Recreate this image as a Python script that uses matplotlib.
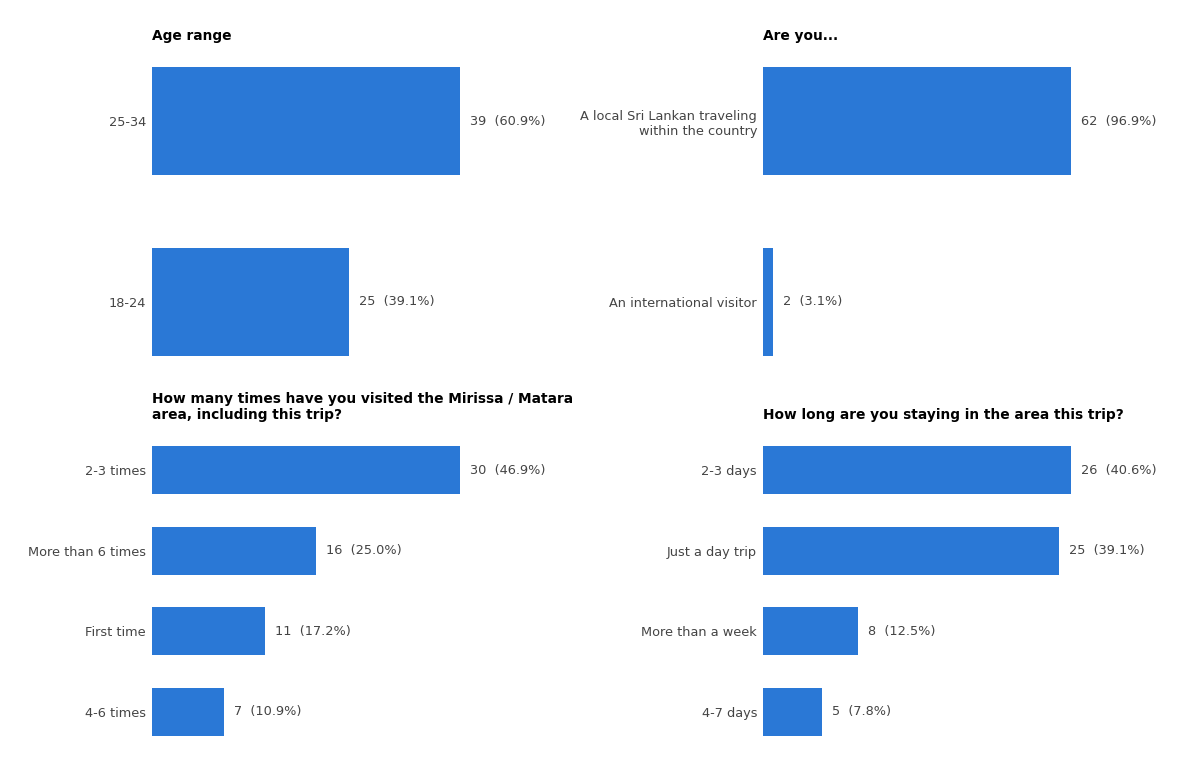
import matplotlib
matplotlib.use("Agg")
import matplotlib.pyplot as plt

plt.rcParams['font.family'] = ['DejaVu Sans']

TOTAL = 64

age_cats = ["25-34", "18-24"]
age_vals = [39, 25]

who_cats = ["A local Sri Lankan traveling\nwithin the country", "An international visitor"]
who_vals = [62, 2]

visits_cats = ["2-3 times", "More than 6 times", "First time", "4-6 times"]
visits_vals = [30, 16, 11, 7]

stay_cats = ["2-3 days", "Just a day trip", "More than a week", "4-7 days"]
stay_vals = [26, 25, 8, 5]

titles = ["Age range", "Are you...",
          "How many times have you visited the Mirissa / Matara\narea, including this trip?",
          "How long are you staying in the area this trip?"]

BAR = "#2a78d6"
GRAY = "#444444"
W, H = 1200, 780
fig = plt.figure(figsize=(12, 7.8), dpi=100)

panels = [
    (age_cats, age_vals, titles[0], 152, 67, 356, 40),
    (who_cats, who_vals, titles[1], 763, 67, 356, 40),
    (visits_cats, visits_vals, titles[2], 152, 446, 736, 419),
    (stay_cats, stay_vals, titles[3], 763, 446, 736, 419),
]

for cats, vals, title, left, top, bottom, tbase in panels:
    ax = fig.add_axes([left / W, (H - bottom) / H, 308 / W, (bottom - top) / H])
    n = len(cats)
    ys = list(range(n))
    ax.barh(ys, vals, height=0.6, color=BAR)
    ax.set_xlim(0, max(vals))
    ax.set_ylim(n - 0.7, -0.3)
    ax.set_yticks(ys)
    ax.set_yticklabels(cats, fontsize=9.3, color=GRAY, ha='right', multialignment='right')
    ax.tick_params(axis='y', length=0, pad=4.3)
    ax.set_xticks([])
    for s in ax.spines.values():
        s.set_visible(False)
    for y, v in zip(ys, vals):
        ax.annotate(f"{v}  ({v / TOTAL * 100:.1f}%)", xy=(v, y), xytext=(10, 0),
                    textcoords='offset pixels',
                    va='center', ha='left', fontsize=9.3, color=GRAY, annotation_clip=False)
    fig.text(left / W, (H - tbase) / H, title, fontsize=9.9, fontweight='bold',
             color='black', ha='left', va='baseline', linespacing=1.2)

fig.savefig("out.png", dpi=100)
